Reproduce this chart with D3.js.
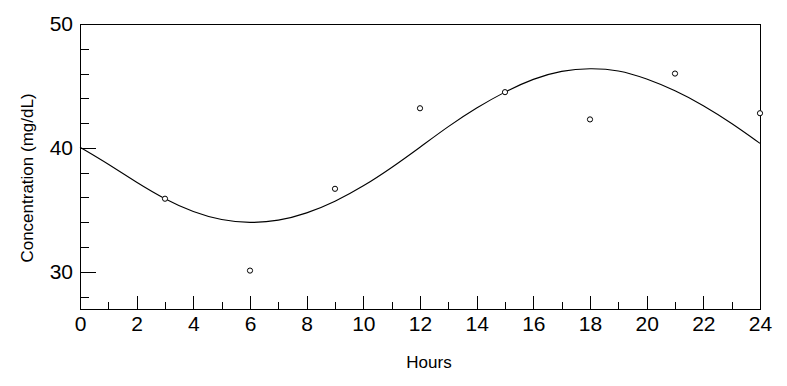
<!DOCTYPE html>
<html>
<head>
<meta charset="utf-8">
<script src="https://cdn.jsdelivr.net/npm/d3@7"></script>
<style>
  body { margin: 0; background: #fff; }
  text { font-family: Arial, "Liberation Sans", sans-serif; fill: #000; }
  .frame { fill: none; stroke: #000; stroke-width: 1; shape-rendering: crispEdges; }
  .axis path { display: none; }
  .axis line { stroke: #000; shape-rendering: crispEdges; }
  .fit { fill: none; stroke: #000; stroke-width: 1.1; }
  .obs { fill: #fff; stroke: #000; stroke-width: 1; }
</style>
</head>
<body>
<div id="chart"></div>
<script>
// observed samples
var sampleHours = [3, 6, 9, 12, 15, 18, 21, 24];
var sampleConc = [35.9, 30.1, 36.7, 43.2, 44.5, 42.3, 46.0, 42.8];

// fitted curve
var fitHours = [0, 1, 2, 3, 4, 5, 6, 7, 8, 9, 10, 11, 12, 13, 14, 15, 16, 17, 18, 19, 20, 21, 22, 23, 24];
var fitConc = [40.05, 38.7, 37.2, 35.85, 34.8, 34.15, 33.92, 34.1, 34.7, 35.65, 36.9, 38.4, 40.05,
  41.75, 43.25, 44.54, 45.6, 46.25, 46.45, 46.3, 45.6, 44.65, 43.45, 42.0, 40.37];

var xMajor = [0, 2, 4, 6, 8, 10, 12, 14, 16, 18, 20, 22, 24];
var xMinor = [1, 3, 5, 7, 9, 11, 13, 15, 17, 19, 21, 23];
var yMajor = [30, 40, 50];
var yMinor = [28, 32, 34, 36, 38, 42, 44, 46, 48];

var width = 787, height = 386;
var plotLeft = 80, plotRight = 760, plotTop = 24, plotBottom = 309;

var svg = d3.select('#chart').append('svg')
  .attr('width', width)
  .attr('height', height);

var x = d3.scaleLinear().domain([0, 24]).range([plotLeft, plotRight]);
var y = d3.scaleLinear().domain([27, 50]).range([plotBottom, plotTop]);

// box round the plot
svg.append('rect')
  .attr('class', 'frame')
  .attr('x', plotLeft)
  .attr('y', plotTop)
  .attr('width', plotRight - plotLeft)
  .attr('height', plotBottom - plotTop);

// inward ticks
svg.append('g').attr('class', 'axis')
  .attr('transform', 'translate(' + plotLeft + ',0)')
  .call(d3.axisLeft(y).tickValues(yMinor).tickSize(-9).tickFormat(''));
var yAxis = svg.append('g').attr('class', 'axis')
  .attr('transform', 'translate(' + plotLeft + ',0)')
  .call(d3.axisLeft(y).tickValues(yMajor).tickSize(-16).tickPadding(7));
yAxis.selectAll('text').style('font-size', '21px');

svg.append('g').attr('class', 'axis')
  .attr('transform', 'translate(0,' + plotBottom + ')')
  .call(d3.axisBottom(x).tickValues(xMinor).tickSize(-7).tickFormat(''));
var xAxis = svg.append('g').attr('class', 'axis')
  .attr('transform', 'translate(0,' + plotBottom + ')')
  .call(d3.axisBottom(x).tickValues(xMajor).tickSize(-13).tickPadding(7));
xAxis.selectAll('text').style('font-size', '21px');

// fitted curve
var fit = fitHours.map(function(h, i) { return { h: h, c: fitConc[i] }; });
var line = d3.line()
  .x(function(d) { return x(d.h); })
  .y(function(d) { return y(d.c); })
  .curve(d3.curveBasis);
svg.append('path')
  .datum(fit)
  .attr('class', 'fit')
  .attr('d', line);

// observed points
var obs = sampleHours.map(function(h, i) { return { h: h, c: sampleConc[i] }; });
svg.selectAll('circle.obs').data(obs)
  .enter().append('circle')
  .attr('class', 'obs')
  .attr('cx', function(d) { return x(d.h); })
  .attr('cy', function(d) { return y(d.c); })
  .attr('r', 2.6);

// axis titles
svg.append('text')
  .attr('x', 429)
  .attr('y', 368)
  .attr('text-anchor', 'middle')
  .style('font-size', '17px')
  .text('Hours');

svg.append('text')
  .attr('transform', 'translate(33,178) rotate(-90)')
  .attr('text-anchor', 'middle')
  .style('font-size', '17px')
  .text('Concentration (mg/dL)');
</script>
</body>
</html>
